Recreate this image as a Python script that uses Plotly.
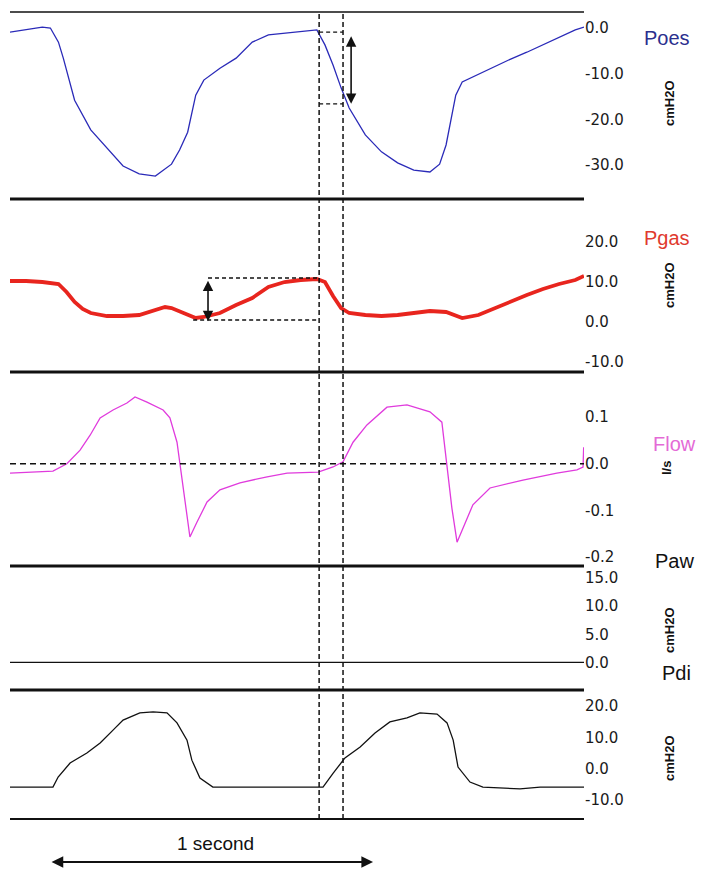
import plotly.graph_objects as go

# ---------------- data (time in seconds) ----------------
poes_t = [0, 0.05, 0.10, 0.125, 0.15, 0.165, 0.18, 0.20, 0.25, 0.30, 0.35, 0.40, 0.45, 0.50,
          0.525, 0.55, 0.575, 0.60, 0.65, 0.70, 0.75, 0.80, 0.85, 0.90, 0.95, 0.975, 1.00,
          1.025, 1.05, 1.10, 1.15, 1.20, 1.25, 1.30, 1.33, 1.35, 1.365, 1.38, 1.40, 1.45,
          1.50, 1.55, 1.60, 1.65, 1.70, 1.75, 1.777]
poes_v = [-0.9, -0.4, 0.2, 0.0, -3.1, -6.6, -10.3, -15.8, -22.3, -26.3, -30.2, -31.9, -32.4, -29.8,
          -26.7, -22.8, -14.7, -11.4, -8.8, -6.6, -3.1, -1.5, -1.1, -0.7, -0.4, -3.7, -8.1,
          -13.1, -17.5, -23.4, -27.1, -29.5, -31.1, -31.5, -29.8, -25.6, -19.7, -14.7, -11.8, -10.1,
          -8.5, -6.8, -5.3, -3.7, -2.0, -0.4, 0.2]

pgas_t = [0, 0.05, 0.10, 0.15, 0.175, 0.20, 0.225, 0.25, 0.30, 0.35, 0.40, 0.45, 0.48, 0.50,
          0.55, 0.575, 0.60, 0.65, 0.70, 0.75, 0.80, 0.85, 0.90, 0.95, 0.975, 1.00, 1.025, 1.05,
          1.10, 1.15, 1.20, 1.25, 1.30, 1.35, 1.40, 1.45, 1.50, 1.55, 1.60, 1.65, 1.70, 1.75, 1.777]
pgas_v = [10.25, 10.25, 10.0, 9.5, 7.5, 5.0, 3.25, 2.25, 1.5, 1.5, 1.75, 3.0, 3.75, 3.5,
          1.75, 1.0, 1.25, 2.25, 4.25, 6.0, 8.75, 10.0, 10.5, 10.75, 10.0, 6.5, 3.5, 2.25,
          1.75, 1.5, 1.75, 2.25, 2.75, 2.5, 1.0, 1.75, 3.5, 5.25, 6.75, 8.25, 9.5, 10.5, 11.5]

flow_t = [0, 0.071, 0.133, 0.176, 0.217, 0.248, 0.279, 0.319, 0.362, 0.387,
          0.424, 0.474, 0.495, 0.517, 0.526, 0.542, 0.557, 0.579, 0.610, 0.650,
          0.712, 0.796, 0.858, 0.954, 1.000, 1.031, 1.062, 1.105, 1.167, 1.229,
          1.300, 1.337, 1.353, 1.368, 1.384, 1.402, 1.433, 1.486, 1.588, 1.693,
          1.755, 1.774, 1.776]
flow_v = [-0.020, -0.018, -0.016, 0.000, 0.029, 0.061, 0.098, 0.115, 0.130, 0.143,
          0.132, 0.115, 0.098, 0.046, 0.000, -0.082, -0.157, -0.125, -0.082, -0.056,
          -0.041, -0.028, -0.020, -0.018, -0.007, 0.004, 0.046, 0.083, 0.121, 0.126,
          0.111, 0.089, 0.000, -0.095, -0.168, -0.138, -0.088, -0.052, -0.035, -0.020,
          -0.013, -0.007, 0.035]

paw_t = [0, 1.777]
paw_v = [0.0, 0.0]

pdi_t = [0, 0.133, 0.149, 0.186, 0.238, 0.279, 0.319, 0.350, 0.402, 0.443,
         0.486, 0.517, 0.548, 0.563, 0.588, 0.628, 0.898, 0.969, 1.000, 1.037,
         1.084, 1.130, 1.176, 1.229, 1.269, 1.322, 1.353, 1.372, 1.387, 1.424, 1.464,
         1.579, 1.641, 1.777]
pdi_v = [-5.9, -5.9, -2.7, 1.8, 5.0, 8.2, 12.3, 15.5, 17.8, 18.1,
         17.8, 14.6, 9.1, 2.7, -3.0, -5.9, -5.9, -5.9, -1.5, 3.4,
         6.9, 11.4, 14.9, 16.2, 17.8, 17.4, 14.6, 9.1, 0.5, -4.3, -5.9,
         -6.5, -5.9, -5.9]

# tick values and labels
poes_ticks = [0, -10, -20, -30]
poes_ticktext = ["0.0", "-10.0", "-20.0", "-30.0"]
pgas_ticks = [20, 10, 0, -10]
pgas_ticktext = ["20.0", "10.0", "0.0", "-10.0"]
flow_ticks = [0.1, 0.0, -0.1, -0.2]
flow_ticktext = ["0.1", "0.0", "-0.1", "-0.2"]
paw_ticks = [15, 10, 5, 0]
paw_ticktext = ["15.0", "10.0", "5.0", "0.0"]
pdi_ticks = [20, 10, 0, -10]
pdi_ticktext = ["20.0", "10.0", "0.0", "-10.0"]

# markers of the analysis
cursor_times = [0.957, 1.031]
poes_swing = [-0.9, -16.6]
poes_arrow_t = 1.056
pgas_swing = [11.0, 0.5]
pgas_arrow_t = 0.613
pgas_low_start = 0.567
second_start, second_end = 0.124, 1.124

# ---------------- layout helpers ----------------
W, H = 702, 870
ML, MR, MT, MB = 10, 118, 12, 51
PW = W - ML - MR
PH = H - MT - MB


def py(p):
    return (H - MB - p) / PH


def px(p):
    return (p - ML) / PW


panels = [
    (12, 199, [-37.42, 3.50], poes_ticks, poes_ticktext),
    (199, 372, [-12.5, 30.75], pgas_ticks, pgas_ticktext),
    (372, 566, [-0.2191, 0.1964], flow_ticks, flow_ticktext),
    (566, 690, [-4.91, 17.15], paw_ticks, paw_ticktext),
    (690, 819, [-16.10, 25.11], pdi_ticks, pdi_ticktext),
]

fig = go.Figure()
fig.add_trace(go.Scatter(x=poes_t, y=poes_v, mode="lines", yaxis="y",
                         line=dict(color="#2A2AB8", width=1.3)))
fig.add_trace(go.Scatter(x=pgas_t, y=pgas_v, mode="lines", yaxis="y2",
                         line=dict(color="#E8251E", width=3.8)))
fig.add_trace(go.Scatter(x=flow_t, y=flow_v, mode="lines", yaxis="y3",
                         line=dict(color="#E03BDD", width=1.3)))
fig.add_trace(go.Scatter(x=paw_t, y=paw_v, mode="lines", yaxis="y4",
                         line=dict(color="#111111", width=1.2)))
fig.add_trace(go.Scatter(x=pdi_t, y=pdi_v, mode="lines", yaxis="y5",
                         line=dict(color="#111111", width=1.3)))

tickfont = dict(family="DejaVu Sans", size=15, color="#1a1a1a")
layout = dict(
    width=W, height=H,
    margin=dict(l=ML, r=MR, t=MT, b=MB),
    paper_bgcolor="white", plot_bgcolor="white",
    showlegend=False,
    xaxis=dict(range=[0, 1.777], visible=False, showgrid=False, zeroline=False),
)
for i, (top, bot, rng, tv, tt) in enumerate(panels):
    key = "yaxis" if i == 0 else f"yaxis{i + 1}"
    layout[key] = dict(domain=[py(bot), py(top)], range=rng, side="right", anchor="x",
                       showgrid=False, zeroline=False, showline=False, ticks="",
                       tickvals=tv, ticktext=tt, tickfont=tickfont)
fig.update_layout(**layout)

# separator lines
shapes = []
shapes.append(dict(type="line", xref="paper", yref="paper", x0=0, x1=1, y0=1, y1=1,
                   line=dict(color="#111", width=1.6)))
for p in [199, 372, 566, 690]:
    shapes.append(dict(type="line", xref="paper", yref="paper", x0=0, x1=1, y0=py(p), y1=py(p),
                       line=dict(color="#111", width=3)))
shapes.append(dict(type="line", xref="paper", yref="paper", x0=0, x1=1, y0=0, y1=0,
                   line=dict(color="#111", width=2)))
# cursor lines
for ct in cursor_times:
    shapes.append(dict(type="line", xref="x", yref="paper", x0=ct, x1=ct, y0=0, y1=1,
                       line=dict(color="#111", width=1.5, dash="5px,3px")))
# Poes swing dashes
for v in poes_swing:
    shapes.append(dict(type="line", xref="x", yref="y", x0=cursor_times[0], x1=cursor_times[1],
                       y0=v, y1=v, line=dict(color="#111", width=1.3, dash="4px,3px")))
# Pgas swing dashes
shapes.append(dict(type="line", xref="x", yref="y2", x0=pgas_arrow_t, x1=cursor_times[0],
                   y0=pgas_swing[0], y1=pgas_swing[0], line=dict(color="#111", width=1.3, dash="4px,3px")))
shapes.append(dict(type="line", xref="x", yref="y2", x0=pgas_low_start, x1=cursor_times[0],
                   y0=pgas_swing[1], y1=pgas_swing[1], line=dict(color="#111", width=1.3, dash="4px,3px")))
# flow zero line
shapes.append(dict(type="line", xref="x", yref="y3", x0=0, x1=1.777, y0=0, y1=0,
                   line=dict(color="#111", width=1.4, dash="6px,4px")))
fig.update_layout(shapes=shapes)

ann = []
# double arrows
ann.append(dict(x=poes_arrow_t, y=poes_swing[1], ax=poes_arrow_t, ay=-1.5, xref="x", yref="y",
                axref="x", ayref="y", text="", showarrow=True, arrowside="end+start",
                arrowhead=2, arrowsize=1.3, arrowwidth=1.6, arrowcolor="#111", standoff=0))
ann.append(dict(x=pgas_arrow_t, y=pgas_swing[1] - 0.3, ax=pgas_arrow_t, ay=pgas_swing[0] - 0.3,
                xref="x", yref="y2", axref="x", ayref="y2", text="", showarrow=True,
                arrowside="end+start", arrowhead=2, arrowsize=1.3, arrowwidth=1.6,
                arrowcolor="#111", standoff=0))
ann.append(dict(x=second_end, y=py(862), ax=second_start, ay=0, xref="x", yref="paper",
                axref="x", ayref="pixel", text="", showarrow=True, arrowside="end+start",
                arrowhead=2, arrowsize=1.3, arrowwidth=1.8, arrowcolor="#111", standoff=0))
ann.append(dict(x=(second_start + second_end) / 2 + 0.012, y=py(843), xref="x", yref="paper",
                xanchor="center", yanchor="middle",
                text="1 second", showarrow=False,
                font=dict(family="Liberation Sans", size=19, color="#111")))

labels = [
    ("Poes", 667, 38, "#2B2F8E"),
    ("Pgas", 667, 238, "#E03A2E"),
    ("Flow", 674, 444, "#E46AD6"),
    ("Paw", 674, 561, "#111111"),
    ("Pdi", 677, 673, "#111111"),
]
for txt, x, y, c in labels:
    ann.append(dict(x=px(x), y=py(y), xref="paper", yref="paper", text=txt, showarrow=False,
                    xanchor="center", yanchor="middle",
                    font=dict(family="Liberation Sans", size=20, color=c)))
units = [("cmH2O", 670, 103), ("cmH2O", 669, 285), ("l/s", 666, 468),
         ("cmH2O", 669, 630), ("cmH2O", 669, 758)]
for txt, x, y in units:
    ann.append(dict(x=px(x), y=py(y), xref="paper", yref="paper", text="<b>" + txt + "</b>",
                    showarrow=False, textangle=-90, xanchor="center", yanchor="middle",
                    font=dict(family="Liberation Sans", size=13, color="#111")))
fig.update_layout(annotations=ann)

fig.write_html("out.html")
